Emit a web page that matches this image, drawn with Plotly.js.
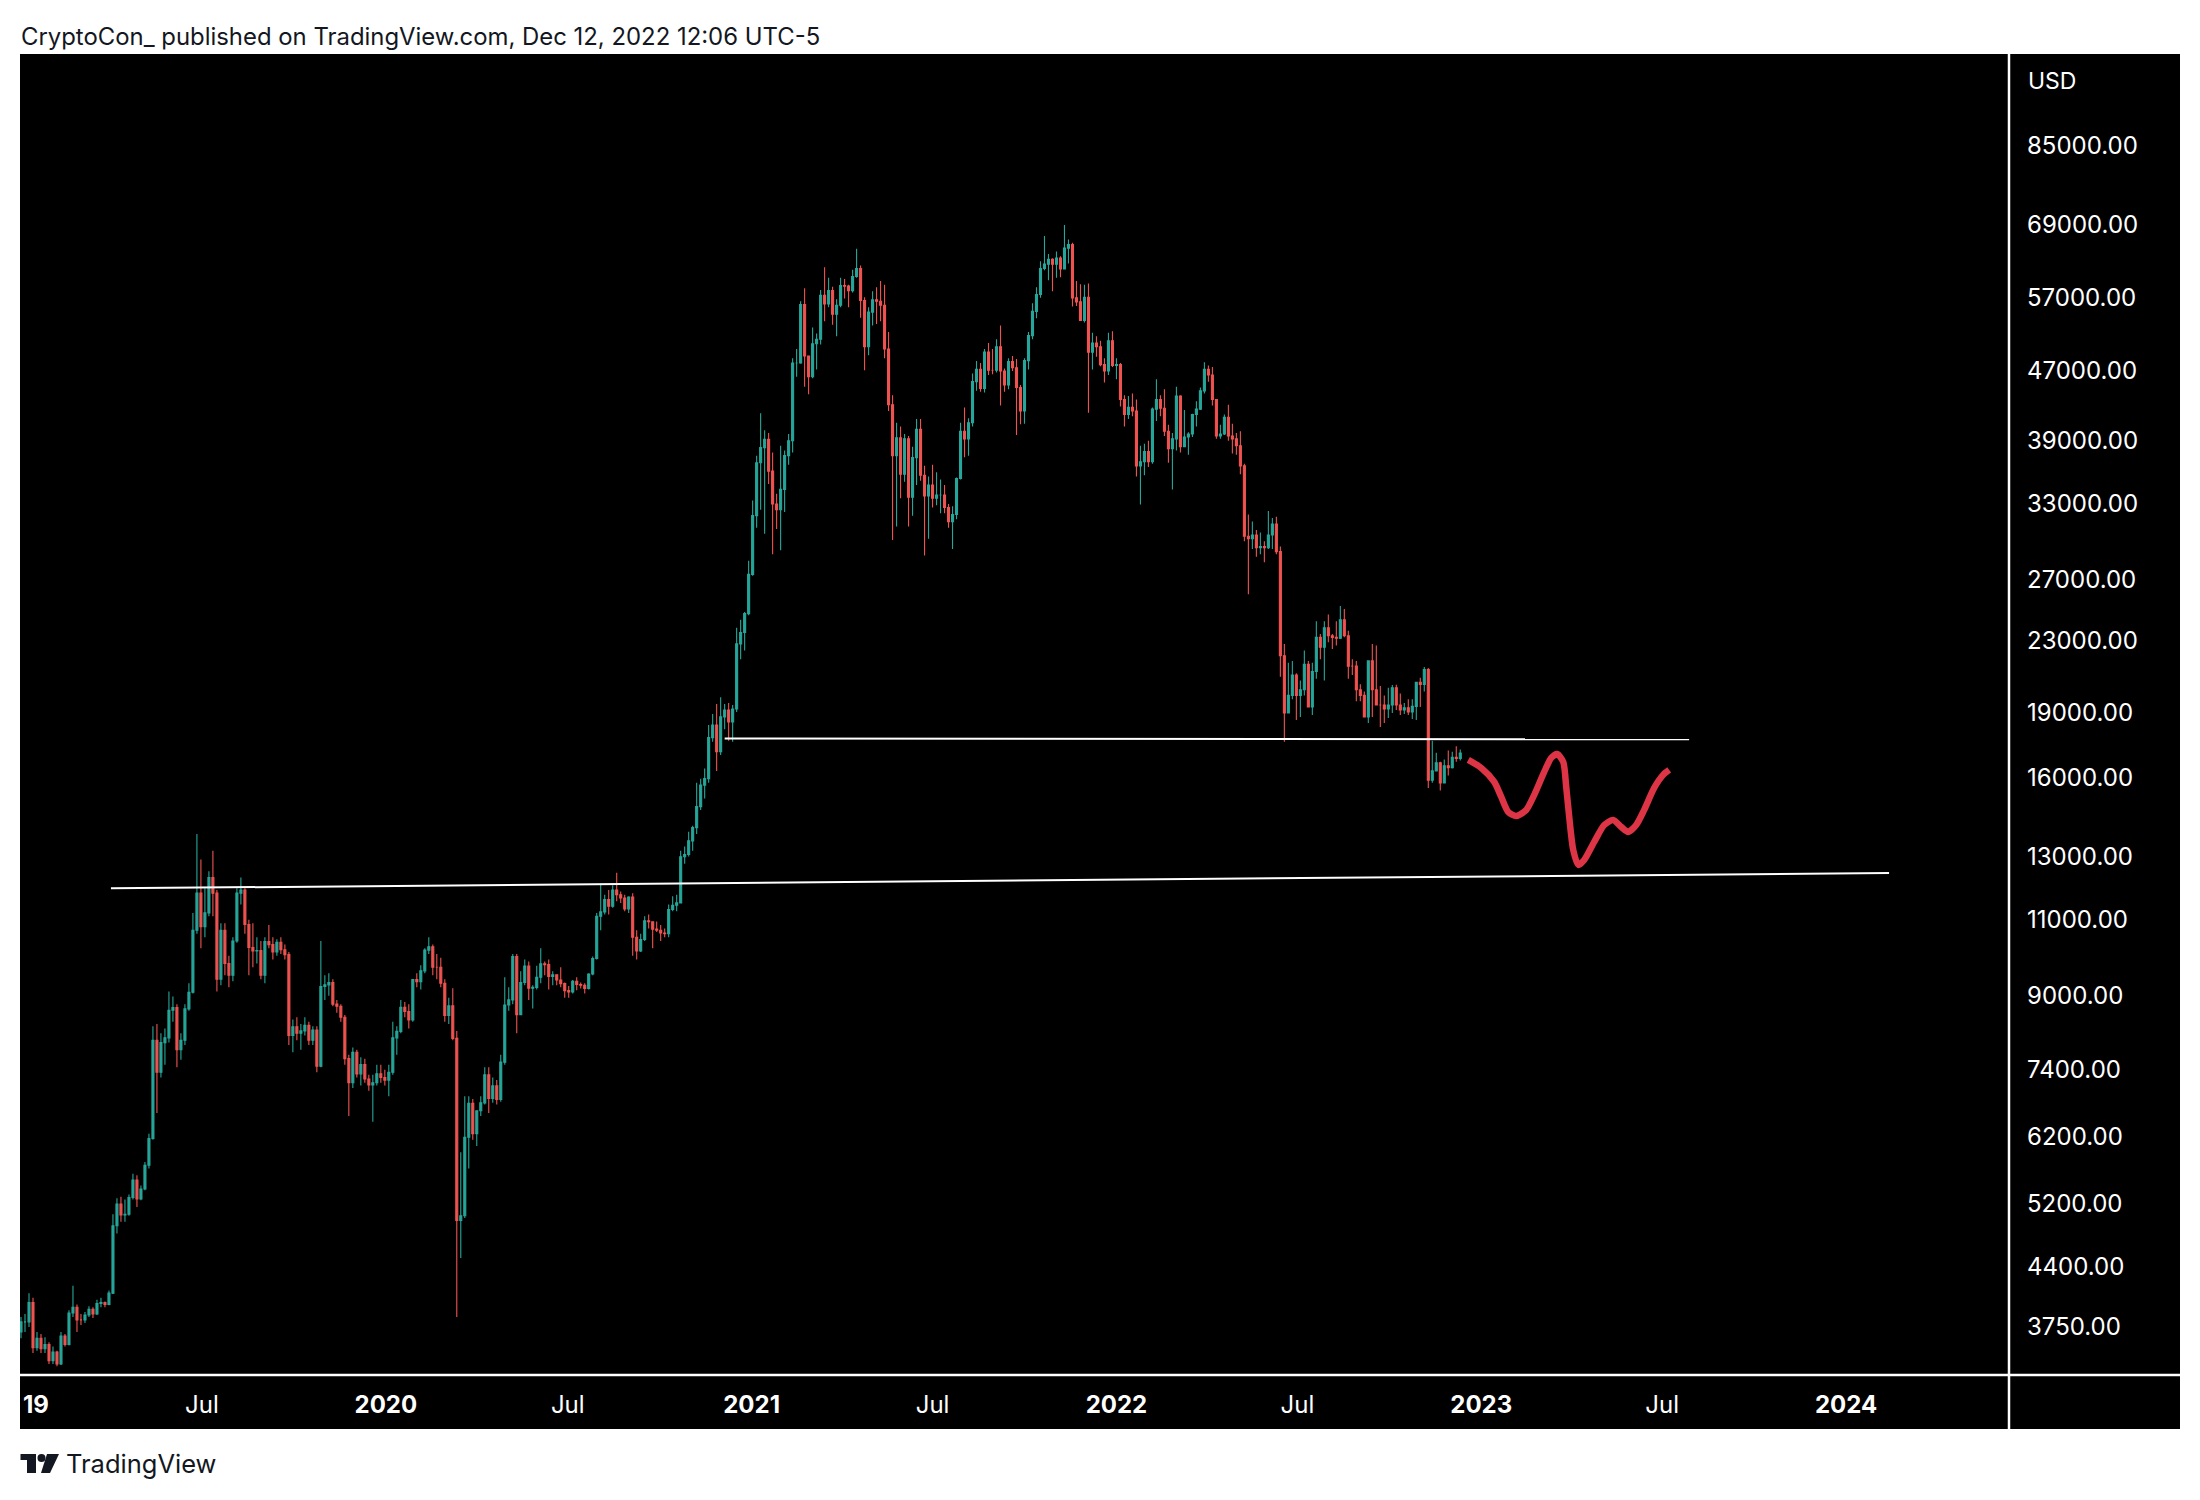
<!DOCTYPE html>
<html><head><meta charset="utf-8">
<script src="https://cdn.plot.ly/plotly-3.0.1.min.js"></script>
<style>html,body{margin:0;padding:0;background:#fff}#chart{width:2200px;height:1500px}</style>
</head><body><div id="chart"></div>
<script>
// Four-day bars, first bar 2019-01-01
const firstBar = '2019-01-01';
const barDays = 4;
const firstOpen = 3700;
const closes = [
3800,3800,4000,3550,3640,3540,3580,3430,
3510,3400,3660,3580,3890,3950,3820,3820,
3870,3930,3880,3990,4000,3980,4100,4900,
5190,5040,5050,5280,5530,5260,5400,5750,
6170,8000,7350,7950,8050,8660,8720,7800,
8000,8690,9080,10700,11800,10800,11200,12300,
11800,9400,10700,9800,9500,10400,11800,11900,
10860,10220,10130,10140,9500,10380,10300,10100,
10360,10160,10030,8100,8290,8150,8200,8320,
8000,8220,7470,9220,9260,9320,8800,8750,
8500,7620,7150,7750,7320,7500,7220,7110,
7150,7320,7250,7200,7350,8050,8190,8730,
8630,8440,9390,9340,9610,10150,10240,9700,
9700,9300,8540,8760,8040,4970,5030,6190,
6770,6250,6640,6780,7300,6860,7090,6840,
7550,8780,8900,9980,8560,9320,9730,9180,
9200,9450,9790,9770,9470,9510,9380,9290,
9120,9090,9350,9270,9250,9170,9530,9930,
11100,11230,11600,11400,11900,11750,11650,11320,
11680,10500,10130,10440,10970,10940,10730,10700,
10620,10600,11300,11430,11500,12990,13070,13550,
14030,14830,15700,15970,17800,18400,17150,18800,
19150,18550,19200,22800,23500,24700,27400,32000,
36800,38300,39150,36000,33000,32500,34300,37500,
39000,47900,47900,55900,48800,46200,50400,51000,
57300,56000,58000,54500,55800,58800,58700,58000,
60200,61500,56500,50000,54800,56600,56400,55800,
49700,42900,37500,39300,35700,39200,33600,37300,
40200,35600,33700,34700,33500,33800,33800,32700,
31500,32100,35300,40000,39200,40900,45600,47100,
44800,49300,47000,47000,50000,46900,45200,48100,
47300,44900,42200,48200,51500,54900,57400,61500,
62200,63000,62200,63200,61400,64900,65500,56900,
56300,53600,57000,49300,50500,50000,47700,46900,
50800,47600,47700,43500,41800,42600,42200,36500,
36900,37900,36900,42400,43500,42500,40000,38200,
39200,43900,38400,39400,39700,41800,42400,44500,
47100,46400,43500,39500,39700,41500,39500,39200,
38500,36500,30300,30100,30400,29400,29500,29400,
30400,31300,29100,22100,19000,19900,21000,19900,
20200,21600,19300,21200,23200,22600,23800,23300,
23200,23150,24300,23300,21500,21500,20200,19900,
18800,21800,20200,19400,19400,19200,19400,20300,
19400,19150,19260,19050,19330,20600,20480,21300,
15900,16300,16650,15790,16520,16440,16900,16840,
17090];
const highs = [
3850,3880,4100,4050,3700,3680,3650,3600,
3560,3520,3700,3680,3920,4180,3980,3880,
3900,3960,3950,4030,4050,4010,4130,5050,
5270,5290,5250,5320,5620,5600,5450,5800,
6250,8300,8350,8150,8250,9100,8980,8800,
8150,8800,9300,11200,13800,12900,11950,12500,
13200,11900,10900,10900,10000,10500,11950,12300,
11950,11000,10900,10500,10400,10500,10850,10500,
10450,10500,10300,10100,8450,8500,8350,8500,
8400,8300,8300,10400,9500,9550,9400,8900,
8800,8550,7700,7850,7800,7650,7620,7300,
7300,7500,7500,7400,7500,8400,8300,8900,
8850,8800,9400,9550,9750,10200,10500,10300,
10050,9950,9400,8950,9180,8200,5950,6900,
6900,6850,6650,6900,7450,7450,7250,7200,
7700,9450,9200,10050,10050,9600,9900,9850,
9250,9740,10200,9850,9900,9600,9500,9700,
9320,9230,9380,9450,9320,9300,9550,9980,
11200,12100,11750,11900,12050,12450,11850,11750,
11700,11800,10700,10600,11100,11150,10950,10950,
10850,10750,11450,11700,11750,13200,13350,13880,
14100,15800,15970,16400,18400,18950,19450,19800,
19450,19500,19400,23800,24300,24800,28400,33300,
37500,41950,40100,39800,37800,33900,38500,38000,
39700,48500,49700,56400,58350,48500,52600,51800,
58100,61700,60000,58600,56700,60000,59800,58900,
61300,64800,62000,57000,55500,57900,58500,59500,
58900,52000,44000,40900,40500,39700,39500,38400,
41300,41300,36500,35500,36600,35900,35200,34700,
33000,32800,35400,40900,42600,41400,46600,48150,
47900,49700,50500,49700,51000,52900,47200,48500,
48800,48400,45200,48500,52000,56100,58500,62700,
67000,63900,63200,64300,63500,69000,66400,65800,
59500,59000,58900,59100,51900,51400,50800,48500,
51900,52100,48500,47900,44000,43900,44200,43500,
38500,38700,39000,42600,45900,44000,44700,40700,
39800,45000,44000,42300,39900,41900,43300,44900,
48000,47600,47400,43500,40700,41800,42900,40800,
39800,40000,36700,32100,31500,30800,30600,29900,
32400,31800,31900,29500,22800,21700,21800,21100,
20700,22400,21800,21700,24200,23400,24200,24650,
23400,24200,25200,25000,23600,21900,21800,20500,
20100,19500,22800,22700,20400,19900,20300,20450,
20470,20000,19500,19700,19700,19600,20850,21450,
21400,17650,17100,16700,16800,17200,17150,17400,
17250];
const lows = [
3640,3700,3750,3500,3520,3500,3500,3400,
3400,3380,3390,3560,3570,3850,3700,3770,
3790,3850,3840,3870,3950,3950,3970,4090,
4800,4950,4950,5030,5250,5150,5240,5380,
5700,6150,6600,7250,7500,7950,8400,7450,
7600,7900,8650,9050,10600,10200,10500,11100,
11100,9100,9250,9500,9200,9350,10350,11450,
10600,9500,9700,9800,9400,9300,10200,9900,
10000,10050,9900,7900,7750,8000,7800,8100,
7900,7900,7350,7450,8900,9000,8750,8600,
8400,7500,6550,7050,7250,7100,7150,7000,
6450,7100,7150,7100,6900,7300,7700,8150,
8500,8250,8400,9200,9150,9550,10050,9500,
9400,9200,8400,8350,8000,3850,4500,5000,
5700,6150,6050,6550,6750,6600,6780,6750,
6800,7500,8650,8800,8150,8550,9250,8900,
8700,9150,9300,9500,9150,9250,9250,9200,
8950,8950,9050,9130,9170,9050,9150,9500,
9900,10700,11150,11150,11350,11550,11500,11250,
11200,10000,9900,10100,10400,10750,10200,10650,
10400,10500,10500,11250,11250,11480,12750,13000,
13200,13800,14700,15150,15800,17600,16300,17000,
18200,17650,17600,19050,21900,22400,24600,27300,
31000,32500,30500,34800,28900,30900,29200,32300,
36600,37800,46200,47800,45000,44100,46000,47100,
50300,53500,55500,53000,51400,55500,56800,55500,
57700,60000,54000,47000,48900,52900,53100,53500,
48500,42200,30000,31100,33500,35000,31100,32000,
34700,35100,28800,30100,32700,32900,32200,32200,
31000,29300,31700,35200,37350,37500,40500,44500,
44400,44300,46400,46500,46700,42800,44400,44700,
46900,39600,40750,40800,47100,51000,53900,56900,
61200,59600,57900,60000,60100,61400,62300,55600,
55700,53600,53300,42000,47100,48700,47500,45500,
46400,47400,45900,42700,40500,41300,41600,35500,
32950,35600,36400,36700,41100,41600,39500,36800,
34300,38000,37800,38600,37600,39400,40500,42300,
44200,45600,42800,39200,39200,39600,39000,37700,
37600,35700,29900,26000,29300,28700,28900,28300,
29300,29300,28900,20900,17600,19000,19700,18650,
18800,19900,19300,18900,20800,21900,20700,22900,
22500,22700,23100,23200,20800,21000,19600,19600,
19600,18500,18800,19700,18300,18500,18750,19000,
19150,18900,18950,18900,18700,18650,19300,20100,
15580,15800,16300,15480,15800,16100,16400,16700,
16750];

// Hand-drawn forecast path
const forecastDates = ['2022-12-19','2023-01-01','2023-01-14','2023-01-21','2023-01-28','2023-02-05','2023-02-15','2023-02-23','2023-03-05','2023-03-12','2023-03-18','2023-03-24','2023-03-27','2023-03-30','2023-04-03','2023-04-08','2023-04-14','2023-04-24','2023-05-04','2023-05-13','2023-05-21','2023-05-28','2023-06-05','2023-06-13','2023-06-23','2023-07-02','2023-07-08'];
const forecastPrices = [16780,16430,15832,15217,14625,14472,14704,15297,16257,16868,17049,16692,15625,14433,13229,12713,12882,13510,14130,14318,14058,13874,14130,14704,15584,16130,16342];

// Trend lines
const upperLineDates = ['2020-12-05','2023-07-28'];
const upperLinePrices = [17760,17720];
const lowerLineDates = ['2019-04-01','2024-02-13'];
const lowerLinePrices = [11950,12445];

// Axis ticks
const priceTicks = [85000,69000,57000,47000,39000,33000,27000,23000,19000,16000,13000,11000,9000,7400,6200,5200,4400,3750];
const priceLabels = ['85000.00','69000.00','57000.00','47000.00','39000.00','33000.00','27000.00','23000.00','19000.00','16000.00','13000.00','11000.00','9000.00','7400.00','6200.00','5200.00','4400.00','3750.00'];
const timeTicks = ['2019-01-16','2019-07-01','2020-01-01','2020-07-01','2021-01-01','2021-07-01','2022-01-01','2022-07-01','2023-01-01','2023-07-01','2024-01-01'];
const timeLabels = ['<b>19</b>','Jul','<b>2020</b>','Jul','<b>2021</b>','Jul','<b>2022</b>','Jul','<b>2023</b>','Jul','<b>2024</b>'];

const UP = '#26a69a', DOWN = '#ef5350', FORECAST = '#dd3546', INK = '#131722';
const dates = closes.map((_, i) => new Date(Date.parse(firstBar + 'T00:00:00Z') + i * barDays * 86400000).toISOString().slice(0, 10));
const opens = closes.map((_, i) => i === 0 ? firstOpen : closes[i - 1]);

const L = 20, R = 2009, T = 54, B = 1374;
const px = x => (x - L) / (R - L);
const py = y => (B - y) / (B - T);
const path = pts => 'M' + pts.map(p => px(p[0]) + ',' + py(p[1])).join('L') + 'Z';
const rect = (x0, y0, x1, y1, fill) => ({type: 'rect', xref: 'paper', yref: 'paper', x0: px(x0), x1: px(x1), y0: py(y0), y1: py(y1), fillcolor: fill, line: {width: 0}, layer: 'below'});
const logoPath = pts => ({type: 'path', xref: 'paper', yref: 'paper', path: path(pts), fillcolor: INK, line: {width: 0}});

const traces = [
  {type: 'candlestick', x: dates, open: opens, high: highs, low: lows, close: closes,
   increasing: {line: {color: UP, width: 1.1}, fillcolor: UP},
   decreasing: {line: {color: DOWN, width: 1.1}, fillcolor: DOWN},
   whiskerwidth: 0, hoverinfo: 'skip', showlegend: false},
  {type: 'scatter', mode: 'lines', x: upperLineDates, y: upperLinePrices, line: {color: '#ffffff', width: 2}, hoverinfo: 'skip', showlegend: false},
  {type: 'scatter', mode: 'lines', x: lowerLineDates, y: lowerLinePrices, line: {color: '#ffffff', width: 2}, hoverinfo: 'skip', showlegend: false},
  {type: 'scatter', mode: 'lines', x: forecastDates, y: forecastPrices, line: {color: FORECAST, width: 6.5, shape: 'spline', smoothing: 0.7}, hoverinfo: 'skip', showlegend: false}
];

const layout = {
  width: 2200, height: 1500, autosize: false,
  margin: {l: L, r: 2200 - R, t: T, b: 1500 - B, pad: 0},
  paper_bgcolor: '#ffffff', plot_bgcolor: '#000000',
  showlegend: false, hovermode: false, boxgap: 0.5, boxgroupgap: 0,
  font: {family: 'Inter, "Liberation Sans", sans-serif', color: '#ffffff', size: 23},
  xaxis: {type: 'date', range: ['2018-12-31', '2024-06-12'], rangeslider: {visible: false},
    tickmode: 'array', tickvals: timeTicks, ticktext: timeLabels, tickangle: 0,
    showgrid: false, zeroline: false, showline: false, ticks: '', ticklabelstandoff: 14,
    tickfont: {family: 'Inter, sans-serif', color: '#ffffff', size: 24}},
  yaxis: {type: 'log', side: 'right', range: [3.520, 5.035],
    tickmode: 'array', tickvals: priceTicks, ticktext: priceLabels,
    showgrid: false, zeroline: false, showline: false, ticks: '', ticklabelstandoff: 17,
    ticklabelshift: 1.5,
    tickfont: {family: 'Inter, sans-serif', color: '#ffffff', size: 24}},
  shapes: [
    rect(20, 54, 2180, 1429, '#000000'),
    {type: 'line', xref: 'paper', yref: 'paper', x0: px(20), x1: px(2180), y0: py(1375), y1: py(1375), line: {color: '#ffffff', width: 2.5}},
    {type: 'line', xref: 'paper', yref: 'paper', x0: 1, x1: 1, y0: py(54), y1: py(1429), line: {color: '#ffffff', width: 2.5}},
    logoPath([[20.5,1454],[36,1454],[36,1473],[27,1473],[27,1460],[20.5,1460]]),
    {type: 'circle', xref: 'paper', yref: 'paper', x0: px(37.5), x1: px(45.5), y0: py(1454), y1: py(1462), fillcolor: INK, line: {width: 0}},
    logoPath([[47,1454],[59,1454],[50,1473],[41,1473]])
  ],
  annotations: [
    {xref: 'paper', yref: 'paper', x: px(19), y: py(36.5), xanchor: 'left', yanchor: 'middle', showarrow: false,
     text: 'CryptoCon_ published on TradingView.com, Dec 12, 2022 12:06 UTC-5', font: {family: 'Inter, sans-serif', size: 23.9, color: INK}},
    {xref: 'paper', yref: 'paper', x: px(2025.5), y: py(81), xanchor: 'left', yanchor: 'middle', showarrow: false,
     text: 'USD', font: {family: 'Inter, sans-serif', size: 23, color: '#ffffff'}},
    {xref: 'paper', yref: 'paper', x: px(64), y: py(1463), xanchor: 'left', yanchor: 'middle', showarrow: false,
     text: 'TradingView', font: {family: 'Inter, sans-serif', size: 25.5, color: INK}}
  ]
};
Plotly.newPlot('chart', traces, layout, {staticPlot: true, displayModeBar: false});
</script></body></html>
